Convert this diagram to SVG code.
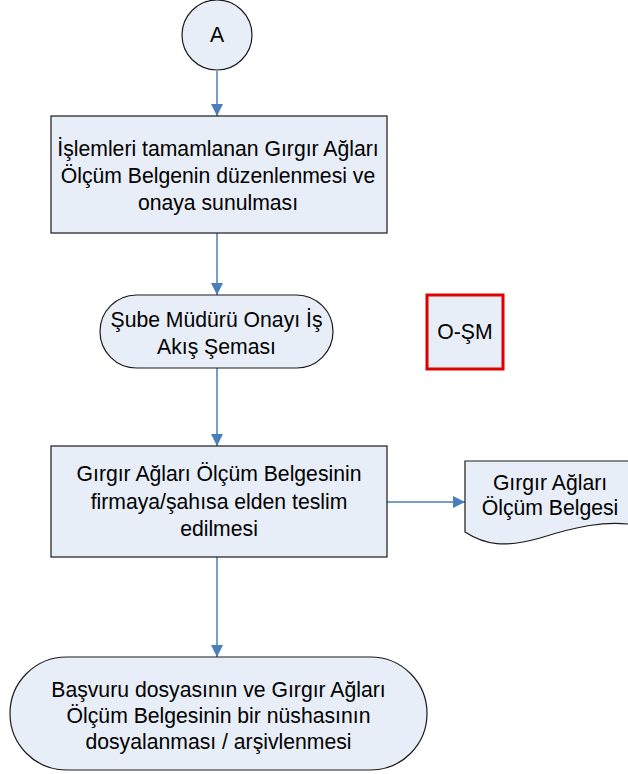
<svg xmlns="http://www.w3.org/2000/svg" width="628" height="774" viewBox="0 0 628 774">
<style>
.shape{fill:#E8EEF7;stroke:#1a1a1a;stroke-width:1.2}
.txt{font-family:"Liberation Sans",Arial,sans-serif;font-size:21.2px;fill:#000;text-anchor:middle}
.conn{stroke:#4A7EBB;stroke-width:1.5;fill:none;marker-end:url(#arr)}
</style>
<defs>
<marker id="arr" markerUnits="userSpaceOnUse" markerWidth="14" markerHeight="14" refX="12" refY="6" orient="auto">
<path d="M0,0 L12,6 L0,12 Z" fill="#4A7EBB"/>
</marker>
</defs>
<rect width="628" height="774" fill="#fff"/>
<g id="connectors">
<line class="conn" x1="217" y1="71" x2="217" y2="116"/>
<line class="conn" x1="217" y1="233" x2="217" y2="295"/>
<line class="conn" x1="217" y1="368" x2="217" y2="446"/>
<line class="conn" x1="387" y1="502" x2="465" y2="502"/>
<line class="conn" x1="217" y1="557" x2="217" y2="657"/>
</g>
<g id="nodeA">
<circle class="shape" cx="217" cy="35" r="35"/>
<text class="txt" x="217" y="42">A</text>
</g>
<g id="node1">
<rect class="shape" x="51" y="116" width="336" height="117"/>
<text class="txt" x="218" y="156">İşlemleri tamamlanan Gırgır Ağları</text>
<text class="txt" x="218" y="183">Ölçüm Belgenin düzenlenmesi ve</text>
<text class="txt" x="218" y="210">onaya sunulması</text>
</g>
<g id="node2">
<rect class="shape" x="100" y="295" width="233" height="73" rx="36.5" ry="36.5"/>
<text class="txt" x="216.5" y="327">Şube Müdürü Onayı İş</text>
<text class="txt" x="216.5" y="354">Akış Şeması</text>
</g>
<g id="nodeOSM">
<rect x="427" y="295" width="76" height="74" fill="#E8EEF7" stroke="#E00000" stroke-width="3"/>
<text class="txt" x="465" y="339">O-ŞM</text>
</g>
<g id="node3">
<rect class="shape" x="51" y="446" width="336" height="111"/>
<text class="txt" x="219" y="481">Gırgır Ağları Ölçüm Belgesinin</text>
<text class="txt" x="219" y="509">firmaya/şahısa elden teslim</text>
<text class="txt" x="219" y="536">edilmesi</text>
</g>
<g id="nodeDoc">
<path class="shape" d="M465,461 H636 V525 C605,520 575,527 540,538 C505,548 485,545 465,532 Z"/>
<text class="txt" x="550" y="490">Gırgır Ağları</text>
<text class="txt" x="550" y="515">Ölçüm Belgesi</text>
</g>
<g id="node4">
<rect class="shape" x="10" y="657" width="417" height="113" rx="56.5" ry="56.5"/>
<text class="txt" x="218.5" y="697">Başvuru dosyasının ve Gırgır Ağları</text>
<text class="txt" x="218.5" y="723">Ölçüm Belgesinin bir nüshasının</text>
<text class="txt" x="218.5" y="749">dosyalanması / arşivlenmesi</text>
</g>
</svg>
